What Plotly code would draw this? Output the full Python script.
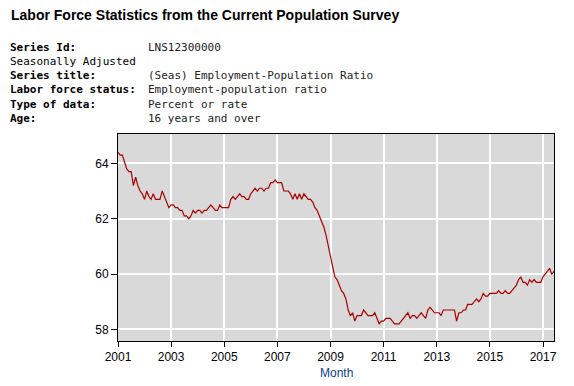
import pandas as pd
import plotly.graph_objects as go

# ---- data (Employment-Population Ratio, monthly, percent) ----
v2001 = [64.4, 64.3, 64.3, 64.0, 63.8, 63.7, 63.7, 63.2, 63.5, 63.2, 63.0, 62.9]
v2002 = [62.7, 63.0, 62.8, 62.7, 62.9, 62.7, 62.7, 62.7, 63.0, 62.8, 62.6, 62.4]
v2003 = [62.5, 62.5, 62.4, 62.4, 62.3, 62.3, 62.1, 62.1, 62.0, 62.1, 62.3, 62.2]
v2004 = [62.3, 62.3, 62.2, 62.3, 62.3, 62.4, 62.5, 62.4, 62.3, 62.3, 62.5, 62.4]
v2005 = [62.4, 62.4, 62.4, 62.7, 62.8, 62.7, 62.8, 62.9, 62.8, 62.8, 62.7, 62.7]
v2006 = [62.9, 63.0, 63.1, 63.0, 63.1, 63.1, 63.0, 63.1, 63.1, 63.3, 63.3, 63.4]
v2007 = [63.3, 63.3, 63.3, 63.0, 63.0, 63.0, 62.9, 62.7, 62.9, 62.7, 62.9, 62.7]
v2008 = [62.9, 62.8, 62.7, 62.7, 62.6, 62.4, 62.3, 62.1, 61.9, 61.7, 61.4, 61.0]
v2009 = [60.6, 60.3, 59.9, 59.8, 59.6, 59.4, 59.3, 59.1, 58.7, 58.5, 58.6, 58.3]
v2010 = [58.5, 58.5, 58.5, 58.7, 58.6, 58.5, 58.5, 58.5, 58.6, 58.4, 58.2, 58.3]
v2011 = [58.3, 58.4, 58.4, 58.4, 58.3, 58.2, 58.2, 58.2, 58.3, 58.4, 58.5, 58.6]
v2012 = [58.4, 58.5, 58.5, 58.4, 58.5, 58.6, 58.5, 58.4, 58.7, 58.8, 58.7, 58.6]
v2013 = [58.6, 58.6, 58.5, 58.7, 58.7, 58.7, 58.7, 58.7, 58.7, 58.3, 58.6, 58.6]
v2014 = [58.7, 58.7, 58.9, 58.9, 58.9, 59.0, 59.1, 59.0, 59.1, 59.3, 59.2, 59.2]
v2015 = [59.3, 59.3, 59.3, 59.3, 59.4, 59.3, 59.3, 59.4, 59.3, 59.3, 59.4, 59.5]
v2016 = [59.6, 59.8, 59.9, 59.7, 59.7, 59.6, 59.8, 59.7, 59.8, 59.7, 59.7, 59.7]
v2017 = [59.9, 60.0, 60.1, 60.2, 60.0, 60.1]

start_month = "2001-01-01"
y_tick_vals = [58, 60, 62, 64]
y_tick_text = ["58", "60", "62", "64"]

header_title = "Labor Force Statistics from the Current Population Survey"
header_labels = ["Series Id:", "Seasonally Adjusted", "Series title:",
                 "Labor force status:", "Type of data:", "Age:"]
header_values = ["LNS12300000", "", "(Seas) Employment-Population Ratio",
                 "Employment-population ratio", "Percent or rate",
                 "16 years and over"]
x_axis_title = "Month"

values = (v2001 + v2002 + v2003 + v2004 + v2005 + v2006 + v2007 + v2008 +
          v2009 + v2010 + v2011 + v2012 + v2013 + v2014 + v2015 + v2016 + v2017)
months = pd.date_range(start_month, periods=len(values), freq="MS")

# ---- layout geometry (page pixels; the page body adds an 8px offset) ----
OFF = 8
W, H = 574 - OFF, 386 - OFF
L, R, T, B = 118 - OFF, 554 - OFF, 134 - OFF, 341 - OFF
pw, ph = R - L, B - T


def px(x):
    return (x - OFF - L) / pw


def py(y):
    return (B - (y - OFF)) / ph


fig = go.Figure()
fig.add_trace(go.Scatter(
    x=months, y=values, mode="lines",
    line=dict(color="#aa0000", width=1.2),
    hoverinfo="x+y", showlegend=False,
))

annotations = []
annotations.append(dict(
    text="<b>" + header_title + "</b>", x=px(9), y=py(14.5),
    xref="paper", yref="paper", xanchor="left", yanchor="middle",
    showarrow=False, font=dict(family="Liberation Sans, Arial", size=14, color="#000000"),
))
row_centers = [47.3, 61.6, 75.7, 89.8, 104.0, 118.0]
for lab, val, yc in zip(header_labels, header_values, row_centers):
    bold = lab != "Seasonally Adjusted"
    annotations.append(dict(
        text=("<b>" + lab + "</b>") if bold else lab, x=px(8.5), y=py(yc),
        xref="paper", yref="paper", xanchor="left", yanchor="middle",
        showarrow=False,
        font=dict(family="DejaVu Sans Mono", size=11, color="#000000"),
    ))
    if val:
        annotations.append(dict(
            text=val, x=px(146.3), y=py(yc),
            xref="paper", yref="paper", xanchor="left", yanchor="middle",
            showarrow=False,
            font=dict(family="DejaVu Sans Mono", size=11, color="#222222"),
        ))
annotations.append(dict(
    text=x_axis_title, x=0.5, y=py(373),
    xref="paper", yref="paper", xanchor="center", yanchor="middle",
    showarrow=False, font=dict(family="Liberation Sans, Arial", size=12, color="#0b3d91"),
))

fig.update_layout(
    width=W, height=H,
    margin=dict(l=L, r=W - R, t=T, b=H - B, pad=0),
    paper_bgcolor="#ffffff", plot_bgcolor="#d9d9d9",
    font=dict(family="Liberation Sans, Arial", size=12, color="#000000"),
    annotations=annotations,
    xaxis=dict(
        type="date", range=["2001-01-01", "2017-06-01"],
        tick0="2001-01-01", dtick="M24", tickformat="%Y",
        showgrid=True, gridcolor="#ffffff", gridwidth=2,
        showline=True, linecolor="#000000", linewidth=1, mirror=True,
        ticks="outside", ticklen=5, tickcolor="#000000", tickwidth=1,
        tickfont=dict(size=12, color="#000000"), zeroline=False,
    ),
    yaxis=dict(
        range=[57.58, 65.06], tickvals=y_tick_vals, ticktext=y_tick_text,
        showgrid=True, gridcolor="#ffffff", gridwidth=2,
        showline=True, linecolor="#000000", linewidth=1, mirror=True,
        ticks="outside", ticklen=6, tickcolor="#000000", tickwidth=1,
        tickfont=dict(size=12, color="#000000"), zeroline=False,
    ),
)

fig.write_html("out.html")
